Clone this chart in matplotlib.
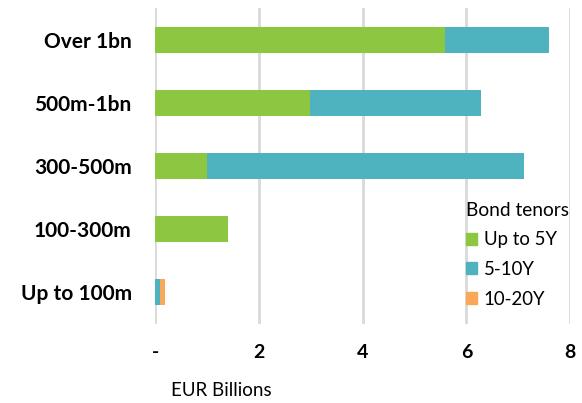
import numpy as np
import matplotlib.pyplot as plt
from matplotlib.patches import Patch

# data (EUR billions)
categories = ["Over 1bn", "500m-1bn", "300-500m", "100-300m", "Up to 100m"]
up_to_5y = [5.59, 2.99, 1.00, 1.40, 0.0]
y5_10 = [2.00, 3.29, 6.12, 0.0, 0.10]
y10_20 = [0.0, 0.0, 0.0, 0.0, 0.09]
series_names = ["Up to 5Y", "5-10Y", "10-20Y"]
colors = ["#8DC641", "#4FB3BF", "#F9A85A"]
tick_vals = [0, 2, 4, 6, 8]
tick_labels = ["-", "2", "4", "6", "8"]

plt.rcParams['font.family'] = ['Lato', 'DejaVu Sans']

fig = plt.figure(figsize=(5.82, 4.03), dpi=100)
ax = fig.add_axes([0.2668, 0.197, 0.7126, 0.782])

y = np.arange(len(categories))
left = np.zeros(len(categories))
for vals, c in zip([up_to_5y, y5_10, y10_20], colors):
    ax.barh(y, vals, left=left, height=0.4, color=c, zorder=3)
    left = left + np.array(vals)

ax.set_ylim(len(categories) - 0.5, -0.5)
ax.set_xlim(0, 8)
ax.set_yticks(y)
ax.set_yticklabels(categories, fontsize=15, fontweight='bold')
ax.set_xticks(tick_vals)
ax.set_xticklabels(tick_labels, fontsize=14, fontweight='bold')
ax.tick_params(axis='y', length=0, pad=17)
ax.tick_params(axis='x', length=0, pad=15)
ax.grid(axis='x', color='#D9D9D9', linewidth=2, zorder=0)
ax.grid(axis='y', visible=False)
for s in ax.spines.values():
    s.set_visible(False)

fig.text(221 / 582, 1 - 390 / 403, "EUR Billions", ha='center', va='center', fontsize=13.5)

handles = [Patch(color=c, label=n) for c, n in zip(colors, series_names)]
leg = fig.legend(handles=handles, loc='upper left', bbox_to_anchor=(0.778, 0.532),
                 frameon=False, fontsize=13.4, title="Bond tenors", title_fontsize=13.8,
                 handlelength=0.6, handleheight=0.6, handletextpad=0.35, labelspacing=0.68,
                 borderpad=0.2)
leg._legend_box.align = "left"

fig.savefig("out.png", dpi=100)
